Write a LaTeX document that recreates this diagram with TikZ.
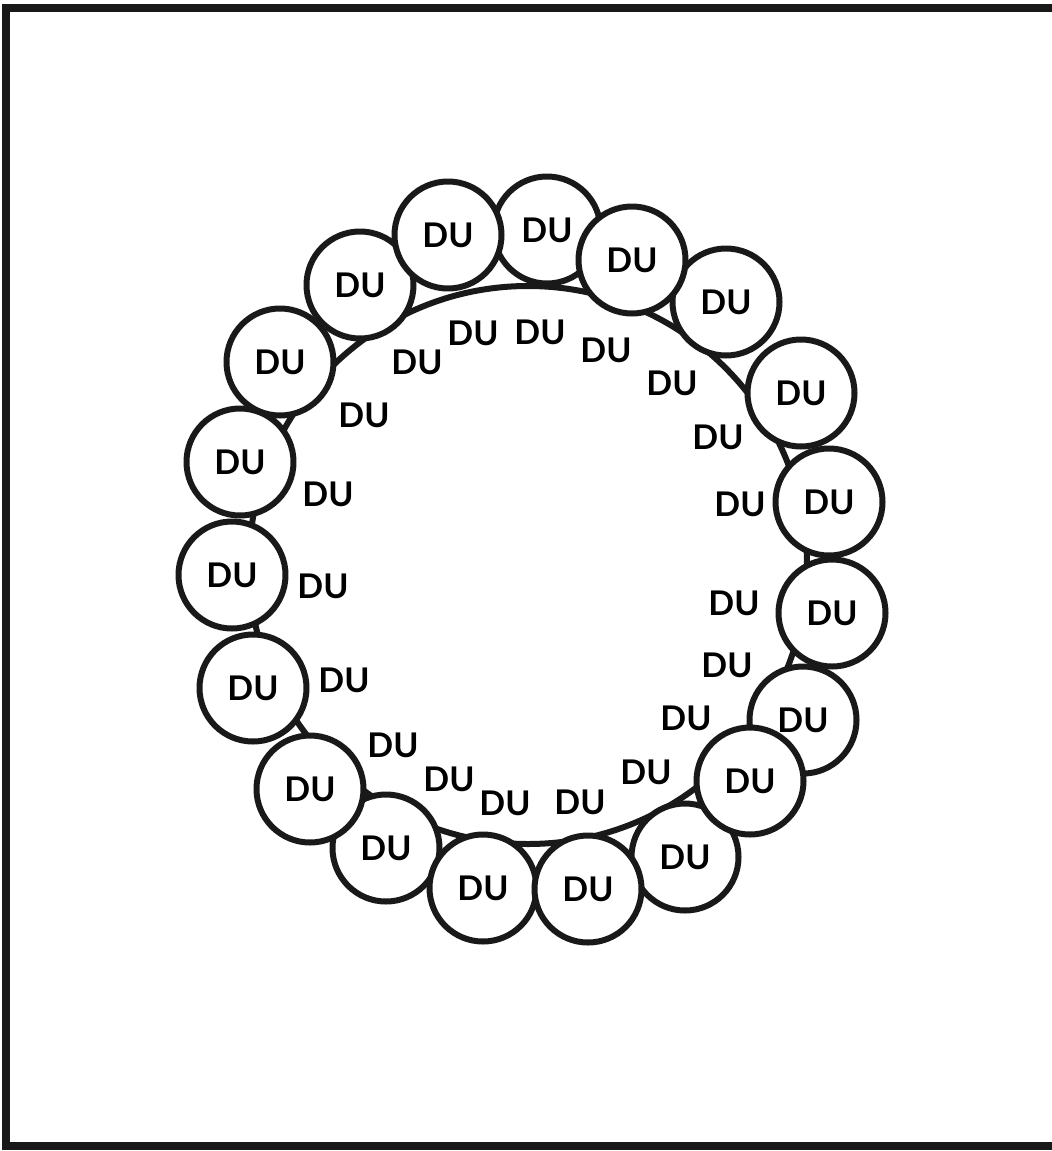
\documentclass[tikz,border=0pt]{standalone}
\usepackage{fontspec}
\newfontfamily\dufont{Lato}
\begin{document}
\begin{tikzpicture}[x=0.5pt,y=-0.5pt,
  ink/.style={line width=3pt, draw=black!90, line cap=round, line join=round},
  ring/.style={ink, circle, fill=white, minimum size=53.5pt, inner sep=0pt,
    font=\dufont\bfseries\fontsize{17}{18}\selectfont},
  lbl/.style={font=\dufont\bfseries\fontsize{17}{18}\selectfont, inner sep=0pt}]
\useasboundingbox (0,0) rectangle (1052,1151);
% frame
\draw[line width=4pt, black!90] (1052,8) -- (6,8) -- (6,1146) -- (1052,1146);
% inner big circle
\coordinate (c) at (528,565);
\draw[ink] (c) circle[radius=139.5pt];
% inner labels
\node[lbl] (i1)  at (417,362) {DU};
\node[lbl] (i2)  at (473,333) {DU};
\node[lbl] (i3)  at (540,332) {DU};
\node[lbl] (i4)  at (606,350) {DU};
\node[lbl] (i5)  at (672,383) {DU};
\node[lbl] (i6)  at (718,437) {DU};
\node[lbl] (i7)  at (740,504) {DU};
\node[lbl] (i8)  at (734,603) {DU};
\node[lbl] (i9)  at (727,665) {DU};
\node[lbl] (i10) at (686,718) {DU};
\node[lbl] (i11) at (646,772) {DU};
\node[lbl] (i12) at (580,802) {DU};
\node[lbl] (i13) at (505,803) {DU};
\node[lbl] (i14) at (449,779) {DU};
\node[lbl] (i15) at (393,745) {DU};
\node[lbl] (i16) at (344,680) {DU};
\node[lbl] (i17) at (323,586) {DU};
\node[lbl] (i18) at (328,494) {DU};
\node[lbl] (i19) at (364,415) {DU};
% outer circles (drawing order gives overlaps)
\node[ring] (o2)  at (547,230) {DU};
\node[ring] (o19) at (360,285) {DU};
\node[ring] (o1)  at (448,235) {DU};
\node[ring] (o4)  at (726,302) {DU};
\node[ring] (o3)  at (632,260) {DU};
\node[ring] (o5)  at (801,393) {DU};
\node[ring] (o6)  at (829,502) {DU};
\node[ring] (o7)  at (832,613) {DU};
\node[ring] (o8)  at (803,720) {DU};
\node[ring] (o10) at (685,857) {DU};
\node[ring] (o9)  at (750,781) {DU};
\node[ring] (o13) at (386,848) {DU};
\node[ring] (o12) at (483,888) {DU};
\node[ring] (o15) at (253,688) {DU};
\node[ring] (o14) at (310,789) {DU};
\node[ring] (o16) at (232,575) {DU};
\node[ring] (o17) at (240,462) {DU};
\node[ring] (o18) at (280,362) {DU};
\node[ring] (o11) at (588,889) {DU};
\end{tikzpicture}
\end{document}
